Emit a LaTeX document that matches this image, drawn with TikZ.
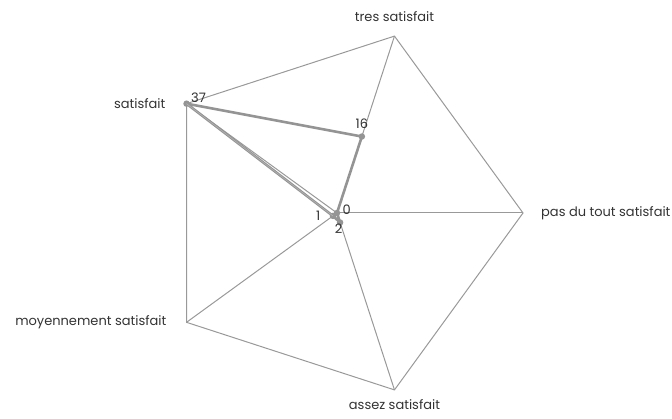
\documentclass[tikz,border=0pt]{standalone}
\usepackage{fontspec}
\setmainfont{Poppins}
\usetikzlibrary{positioning}

\begin{document}
\begin{tikzpicture}[x=1pt,y=1pt,
    axe/.style={draw=black!40, line width=1pt},
    serie/.style={draw=black!42, line width=2.6pt, line join=round},
    pt/.style={circle, fill=black!42, inner sep=0pt, minimum size=6.5pt},
    lab/.style={font=\fontsize{13}{15}\selectfont, text=black!80, inner sep=0pt},
    val/.style={font=\fontsize{13}{15}\selectfont, text=black!80, inner sep=1pt}]
  \useasboundingbox (-337,-206) rectangle (335,213);
  % axes of the radar
  \coordinate (centre) at (0,0);
  \coordinate (pas) at (0:186);
  \coordinate (tres) at (72:186);
  \coordinate (sat) at (144:186);
  \coordinate (moy) at (216:186);
  \coordinate (assez) at (288:186);
  \draw[axe] (pas) -- (tres) -- (sat) -- (moy) -- (assez) -- cycle;
  \foreach \v in {pas,tres,sat,moy,assez}
    \path[axe] (centre) edge (\v);
  % axis labels
  \node[lab, right=18pt of pas] (pasL) {pas du tout satisfait};
  \node[lab, above=14pt of tres] (tresL) {tres satisfait};
  \node[lab, left=21pt of sat] (satL) {satisfait};
  \node[lab, left=20pt of moy] (moyL) {moyennement satisfait};
  \node[lab, below=9pt of assez] (assezL) {assez satisfait};
  % data (max 37)
  \node[pt] (v0) at (0:0) {};
  \node[pt] (v16) at (72:80.4) {};
  \node[pt] (v37) at (144:186) {};
  \node[pt] (v1) at (216:5) {};
  \node[pt] (v2) at (288:10) {};
  \draw[serie] (v0.center) -- (v16.center) -- (v37.center) -- (v1.center)
    -- (v2.center) -- cycle;
  \draw[white!70!black, line width=0.6pt] (v37.center) -- (v1.center);
  \node[val, above right=-3pt and 1pt of v37] {37};
  \node[val, above=3pt of v16] {16};
  \node[val, above right=-5pt and 2pt of v0] {0};
  \node[val, left=8pt of v1] {1};
  \node[val, below left=-2pt and -6pt of v2] {2};
\end{tikzpicture}
\end{document}
